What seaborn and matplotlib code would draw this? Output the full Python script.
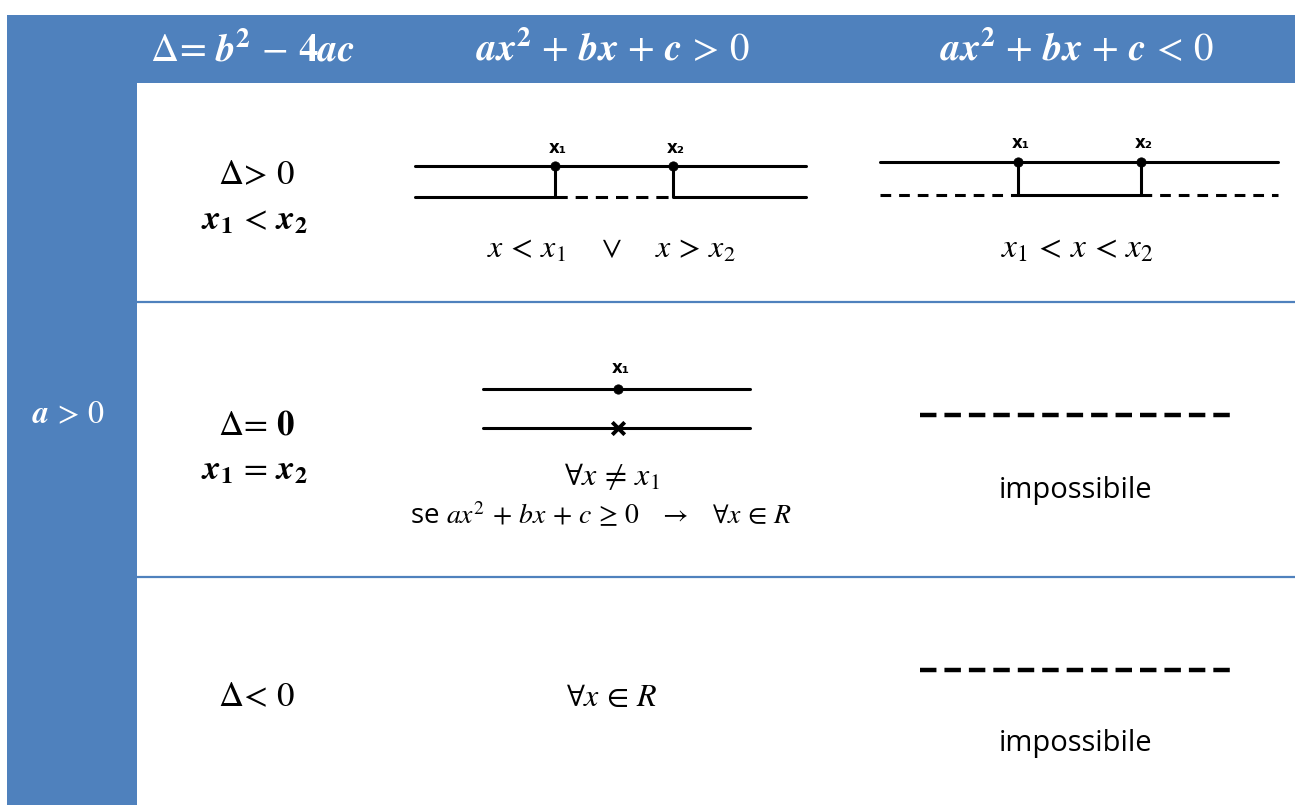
import matplotlib
matplotlib.use("Agg")
import matplotlib.pyplot as plt
import seaborn as sns
import pandas as pd
from matplotlib.patches import Rectangle

sns.set_theme(style="white")
plt.rcParams["font.family"] = ["Open Sans", "DejaVu Sans"]
plt.rcParams["mathtext.fontset"] = "stix"
plt.rcParams["text.color"] = "black"

# ---------------- content ----------------
header_labels = [r"$\Delta\!=\,\mathbfit{b}^{\mathbf{2}}\,-\,\mathbf{4}\mathbfit{ac}$",
                 r"$\mathbfit{ax}^{\mathbf{2}}\,+\,\mathbfit{bx}\,+\,\mathbfit{c}\,>\,0$",
                 r"$\mathbfit{ax}^{\mathbf{2}}\,+\,\mathbfit{bx}\,+\,\mathbfit{c}\,<\,0$"]
side_label = r"$\mathbfit{a}\,>\,0$"
delta_labels = [r"$\Delta\!>\,0$", r"$\Delta\!=\,\mathbf{0}$", r"$\Delta\!<\,0$"]
root_labels = [r"$\mathbfit{x}_{\mathbf{1}}\,<\,\mathbfit{x}_{\mathbf{2}}$",
               r"$\mathbfit{x}_{\mathbf{1}}\,=\,\mathbfit{x}_{\mathbf{2}}$", ""]
positive_solutions = [r"$x\,<\,x_1\quad\;\vee\quad\; x\,>\,x_2$",
                      r"$\forall x\,\neq\,x_1$",
                      r"$\forall x\,\in\,R$"]
positive_note = r"se $ax^2\,+\,bx\,+\,c\,\geq\,0\quad\rightarrow\quad\forall x\,\in\,R$"
negative_solutions = [r"$x_1\,<\,x\,<\,x_2$", "impossibile", "impossibile"]
point_names = ["x\u2081", "x\u2082"]

# root positions on the sign diagrams (pixel space of the table)
pos_line = [415, 806]
pos_roots = [555, 673]
neg_line = [880, 1278]
neg_roots = [1018, 1141]
eq_line = [483, 750]
eq_root = 618
empty_line = [920, 1230]

BLUE = "#4F81BD"
W, H = 1295, 805

fig = plt.figure(figsize=(W / 100, H / 100), dpi=100)
ax = fig.add_axes([0, 0, 1, 1])
ax.set_xlim(0, W)
ax.set_ylim(H, 0)
ax.axis("off")

# table frame
ax.add_patch(Rectangle((7, 15), W - 7, 68, color=BLUE, lw=0))
ax.add_patch(Rectangle((7, 15), 130, H - 15, color=BLUE, lw=0))
for y in [302, 577]:
    ax.plot([137, W], [y, y], color=BLUE, lw=1.6)

# header
for x, lab in zip([252, 613, 1077], header_labels):
    ax.text(x, 51, lab, color="white", fontsize=28, ha="center", va="center")
ax.text(68, 415, side_label, color="white", fontsize=23, ha="center", va="center")

# first column
delta_y = [175, 425, 697]
roots_y = [220, 470, None]
for dy, ry, dl, rl in zip(delta_y, roots_y, delta_labels, root_labels):
    ax.text(257, dy, dl, fontsize=25, ha="center", va="center")
    if rl:
        ax.text(254, ry, rl, fontsize=25, ha="center", va="center")

LW = 2.2
k = "black"

def seg(x0, x1, y, dashed=False, lw=LW, dashes=(4.0, 2.6)):
    d = pd.DataFrame({"x": [x0, x1], "y": [y, y]})
    line = sns.lineplot(data=d, x="x", y="y", ax=ax, color=k, lw=lw,
                        estimator=None, sort=False)
    if dashed:
        line.lines[-1].set_dashes(list(dashes))
    return line

def vert(x, y0, y1):
    ax.plot([x, x], [y0, y1], color=k, lw=LW, solid_capstyle="butt")

def dots(xs, y):
    sns.scatterplot(x=xs, y=[y] * len(xs), ax=ax, color=k, s=45, zorder=5,
                    edgecolor=k, legend=False)

# row 1, positive
y_top, y_bot = 166, 197
seg(pos_line[0], pos_line[1], y_top)
seg(pos_line[0], pos_roots[0], y_bot)
seg(pos_roots[0], pos_roots[1], y_bot, dashed=True)
seg(pos_roots[1], pos_line[1], y_bot)
for r in pos_roots:
    vert(r, y_top, y_bot)
dots(pos_roots, y_top)
for r, nm in zip(pos_roots, point_names):
    ax.text(r + 3, 148, nm, fontsize=12, fontweight="bold", ha="center", va="center",
            family=["DejaVu Sans"])
ax.text(611, 249, positive_solutions[0], fontsize=23, ha="center", va="center")

# row 1, negative
y_top, y_bot = 162, 195
seg(neg_line[0], neg_line[1], y_top)
seg(neg_line[0], neg_roots[0], y_bot, dashed=True, dashes=(3.5, 2.6))
seg(neg_roots[0], neg_roots[1], y_bot)
seg(neg_roots[1], neg_line[1], y_bot, dashed=True, dashes=(3.5, 2.6))
for r in neg_roots:
    vert(r, y_top, y_bot)
dots(neg_roots, y_top)
for r, nm in zip(neg_roots, point_names):
    ax.text(r + 3, 143, nm, fontsize=12, fontweight="bold", ha="center", va="center",
            family=["DejaVu Sans"])
ax.text(1077, 249, negative_solutions[0], fontsize=24, ha="center", va="center")

# row 2, positive
seg(eq_line[0], eq_line[1], 389)
seg(eq_line[0], eq_line[1], 428)
dots([eq_root], 389)
ax.scatter([eq_root], [428], marker="x", s=80, color=k, linewidths=2.8, zorder=5)
ax.text(eq_root + 3, 368, point_names[0], fontsize=12, fontweight="bold",
        ha="center", va="center", family=["DejaVu Sans"])
ax.text(612, 477, positive_solutions[1], fontsize=23, ha="center", va="center")
ax.text(601, 516, positive_note, fontsize=20, ha="center", va="center")

# row 2 & 3, negative
for ly, ty, txt in [(415, 490, negative_solutions[1]), (670, 743, negative_solutions[2])]:
    seg(empty_line[0], empty_line[1], ly, dashed=True, lw=3.2, dashes=(3.7, 1.8))
    ax.text(1076, ty, txt, fontsize=21, ha="center", va="center")

# row 3, positive
ax.text(612, 697, positive_solutions[2], fontsize=23, ha="center", va="center")

ax.set_xlim(0, W)
ax.set_ylim(H, 0)
ax.set_xlabel("")
ax.set_ylabel("")
fig.savefig("out.png", dpi=100)
